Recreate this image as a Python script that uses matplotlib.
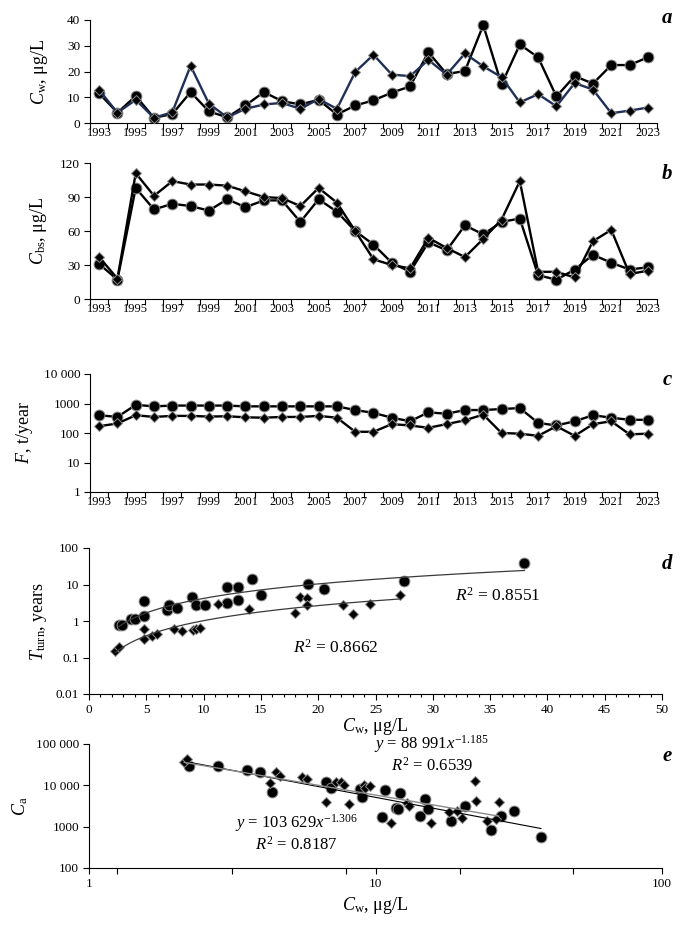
import numpy as np
import matplotlib
matplotlib.use("Agg")
import matplotlib.pyplot as plt
from matplotlib.ticker import FixedLocator, FuncFormatter, NullLocator

plt.rcParams['font.family'] = ['Liberation Serif', 'DejaVu Serif']
plt.rcParams['mathtext.fontset'] = 'custom'
plt.rcParams['mathtext.rm'] = 'Liberation Serif'
plt.rcParams['mathtext.it'] = 'Liberation Serif:italic'
plt.rcParams['font.size'] = 9.5

# ---------------- data ----------------
years = list(range(1993, 2024))

cw_circ = [11.5, 4, 10.5, 2, 3.5, 12, 4.5, 2.2, 6.8, 12, 8.5, 7.2, 9, 3.3, 6.8, 8.8,
           11.8, 14.2, 27.5, 19, 20.2, 38, 15, 30.5, 25.5, 10.3, 18.2, 15.3, 22.5, 22.5, 25.5]
cw_diam = [12.8, 4, 9, 2, 4.2, 22.2, 7.5, 2.2, 5.5, 7.2, 7.8, 5.5, 9.3, 5.5, 19.8, 26.5,
           18.8, 18.2, 24.5, 18.8, 27, 22, 17.8, 8, 11.2, 6.5, 15.5, 13, 3.8, 4.8, 6]

cbs_circ = [31, 17, 98, 79, 84, 82, 78, 88, 81, 87, 87, 68, 88, 77, 60, 48,
            32, 24, 50, 43, 65, 57, 68, 71, 21, 17, 26, 39, 32, 26, 28]
cbs_diam = [37, 18, 111, 91, 104, 101, 101, 100, 95, 90, 89, 82, 98, 85, 60, 35,
            30, 27, 54, 45, 37, 53, 70, 104, 24, 24, 19, 51, 61, 22, 25]

f_circ = [400, 350, 900, 800, 850, 850, 850, 850, 800, 800, 800, 800, 800, 800, 600, 480,
          330, 250, 500, 450, 600, 600, 650, 700, 220, 180, 250, 400, 330, 280, 280]
f_diam = [170, 210, 400, 350, 380, 380, 360, 370, 340, 330, 350, 350, 380, 330, 110, 110,
          200, 180, 150, 200, 270, 420, 100, 95, 80, 170, 80, 200, 250, 90, 95]

# panel d: turnover time vs Cw
d_circ_x = [2.6, 2.9, 3.7, 4.0, 4.8, 4.8, 6.8, 7.0, 7.7, 9.0, 9.3, 10.1, 12.0, 12.0, 13.0,
            13.0, 14.2, 15.0, 19.1, 20.5, 27.5, 38.0]
d_circ_y = [0.8, 0.8, 1.1, 1.1, 3.5, 1.35, 2.0, 2.7, 2.3, 4.5, 2.7, 2.8, 8.8, 3.2, 8.5,
            3.8, 14.0, 5.3, 10.5, 7.5, 12.5, 40.0]
d_diam_x = [2.3, 2.6, 4.8, 4.8, 5.5, 5.9, 7.4, 8.1, 9.1, 9.3, 9.7, 11.3, 14.0, 18.0, 18.4,
            19.0, 19.0, 22.2, 23.0, 24.5, 27.1]
d_diam_y = [0.15, 0.19, 0.6, 0.32, 0.4, 0.45, 0.6, 0.52, 0.55, 0.6, 0.65, 3.0, 2.1, 1.7, 4.5,
            4.2, 2.8, 2.8, 1.6, 3.0, 5.0]

# panel e: Ca vs Cw (log-log)
e_circ_x = [2.23, 2.82, 3.57, 3.94, 4.36, 6.73, 7.01, 8.85, 9.0, 10.5, 10.8, 11.8, 12.0,
            12.2, 14.3, 14.9, 15.2, 18.4, 20.5, 25.4, 27.5, 30.5, 37.8]
e_circ_y = [29000, 29000, 23000, 21000, 6900, 12300, 8600, 8200, 5300, 1700, 7600, 2900, 2700,
            6500, 1780, 4800, 2650, 1400, 3200, 850, 1860, 2330, 560]
e_diam_x = [2.15, 2.2, 4.3, 4.48, 4.64, 5.53, 5.77, 6.73, 7.28, 7.6, 7.76, 8.1, 9.1, 9.2,
            9.6, 11.3, 12.9, 13.1, 15.6, 18.1, 19.3, 20.0, 22.2, 22.4, 24.5, 26.4, 26.9]
e_diam_y = [36000, 44000, 11600, 21000, 17000, 16000, 14000, 4000, 11800, 12000, 10000, 3600,
            10000, 8500, 9500, 1260, 3700, 3200, 1260, 2250, 2400, 1600, 13000, 4200, 1380,
            1500, 4000]
fit_e_circ = (103629, -1.306)
fit_e_diam = (88991, -1.185)

# ---------------- style helpers ----------------
navy = '#1f2f55'
circ_kw = dict(marker='o', ms=7.8, mfc='black', mec='#8c8c8c', mew=0.7)
diam_kw = dict(marker='D', ms=5.5, mfc='black', mec='#8c8c8c', mew=0.7)

def space_fmt(v, pos):
    if v >= 10000:
        return f"{int(round(v)):,}".replace(",", " ")
    if v >= 1:
        return f"{int(round(v))}"
    return f"{v:g}"

def clean(ax):
    ax.spines['top'].set_visible(False)
    ax.spines['right'].set_visible(False)
    ax.tick_params(axis='both', which='both', direction='out', length=4, width=0.8, pad=3)

def year_axis(ax):
    n = len(years)
    ax.set_xlim(-0.5, n - 0.5)
    ax.xaxis.set_major_locator(FixedLocator(np.arange(-0.5, n, 1.0)))
    ax.xaxis.set_major_formatter(FuncFormatter(lambda v, p: ""))
    pos = np.arange(0, n, 2)
    ax.xaxis.set_minor_locator(FixedLocator(pos))
    ax.xaxis.set_minor_formatter(FuncFormatter(lambda v, p: str(years[int(round(v))])))

fig = plt.figure(figsize=(6.84, 9.27), dpi=100)
H = 927.0
W = 684.0
def box(x0, x1, y0, y1):
    return [x0 / W, 1 - y1 / H, (x1 - x0) / W, (y1 - y0) / H]

x = np.arange(len(years))
ylab_fs = 13
lw = 1.7

# ---------------- a ----------------
ax = fig.add_axes(box(90, 657, 20, 123))
ax.plot(x, cw_diam, color=navy, lw=lw, **diam_kw, zorder=3)
ax.plot(x, cw_circ, color='black', lw=lw, **circ_kw, zorder=2)
ax.set_ylim(0, 40)
ax.set_yticks([0, 10, 20, 30, 40])
year_axis(ax)
clean(ax)
ax.tick_params(axis='x', which='minor', length=0, labelsize=9)
ax.set_ylabel(r"$C_\mathrm{w}$, μg/L", fontsize=ylab_fs, labelpad=12)

# ---------------- b ----------------
ax = fig.add_axes(box(90, 657, 163, 299))
ax.plot(x, cbs_diam, color='black', lw=lw, **diam_kw, zorder=3)
ax.plot(x, cbs_circ, color='black', lw=lw, **circ_kw, zorder=2)
ax.set_ylim(0, 120)
ax.set_yticks([0, 30, 60, 90, 120])
year_axis(ax)
clean(ax)
ax.tick_params(axis='x', which='minor', length=0, labelsize=9)
ax.set_ylabel(r"$C_\mathrm{bs}$, μg/L", fontsize=ylab_fs, labelpad=8)

# ---------------- c ----------------
ax = fig.add_axes(box(90, 657, 374, 492))
ax.plot(x, f_circ, color='black', lw=lw, **circ_kw, zorder=2)
ax.plot(x, f_diam, color='black', lw=lw, **diam_kw, zorder=3)
ax.set_yscale('log')
ax.set_ylim(1, 10000)
ax.yaxis.set_major_locator(FixedLocator([1, 10, 100, 1000, 10000]))
ax.yaxis.set_minor_locator(NullLocator())
ax.yaxis.set_major_formatter(FuncFormatter(space_fmt))
year_axis(ax)
clean(ax)
ax.tick_params(axis='x', which='minor', length=0, labelsize=9)
ax.set_ylabel(r"$F$, t/year", fontsize=ylab_fs, labelpad=6)

# ---------------- d ----------------
ax = fig.add_axes(box(89, 662, 548, 694))
for xs, ys, kw in [(d_circ_x, d_circ_y, circ_kw), (d_diam_x, d_diam_y, diam_kw)]:
    xs = np.array(xs); ys = np.array(ys)
    b, a = np.polyfit(np.log(xs), np.log(ys), 1)
    xx = np.linspace(xs.min(), xs.max(), 200)
    ax.plot(xx, np.exp(a) * xx ** b, color='#3a3a3a', lw=0.9, zorder=4)
    ax.plot(xs, ys, ls='none', zorder=3, **kw)
ax.set_yscale('log')
ax.set_ylim(0.01, 100)
ax.set_xlim(0, 50)
ax.yaxis.set_major_locator(FixedLocator([0.01, 0.1, 1, 10, 100]))
ax.yaxis.set_minor_locator(NullLocator())
ax.yaxis.set_major_formatter(FuncFormatter(space_fmt))
ax.set_xticks(np.arange(0, 51, 5))
ax.xaxis.set_minor_locator(FixedLocator(np.arange(0, 51, 1)))
clean(ax)
ax.tick_params(axis='x', which='minor', length=2.5)
ax.set_ylabel(r"$T_\mathrm{turn}$, years", fontsize=ylab_fs, labelpad=5)
ax.set_xlabel(r"$C_\mathrm{w}$, μg/L", fontsize=ylab_fs, labelpad=0)
ax.text(35.7, 5.0, r"$R^2$ = 0.8551", fontsize=12.5, ha='center', va='center')
ax.text(21.5, 0.18, r"$R^2$ = 0.8662", fontsize=12.5, ha='center', va='center')

# ---------------- e ----------------
ax = fig.add_axes(box(89, 662, 744, 868))
ax.set_xscale('log')
ax.set_yscale('log')
xx = np.linspace(min(e_circ_x), max(e_circ_x), 100)
ax.plot(xx, fit_e_circ[0] * xx ** fit_e_circ[1], color='black', lw=0.8, zorder=4)
xx = np.linspace(min(e_diam_x), max(e_diam_x), 100)
ax.plot(xx, fit_e_diam[0] * xx ** fit_e_diam[1], color='#8a8a8a', lw=1.0, zorder=4)
ax.plot(e_circ_x, e_circ_y, ls='none', zorder=3, **circ_kw)
ax.plot(e_diam_x, e_diam_y, ls='none', zorder=3, **diam_kw)
ax.set_xlim(1, 100)
ax.set_ylim(100, 100000)
ax.yaxis.set_major_locator(FixedLocator([100, 1000, 10000, 100000]))
ax.yaxis.set_minor_locator(NullLocator())
ax.yaxis.set_major_formatter(FuncFormatter(space_fmt))
ax.xaxis.set_major_locator(FixedLocator([1, 10, 100]))
ax.xaxis.set_major_formatter(FuncFormatter(space_fmt))
ax.xaxis.set_minor_locator(FixedLocator([1.25, 3.15, 7.9, 19.7, 49]))
ax.xaxis.set_minor_formatter(FuncFormatter(lambda v, p: ""))
clean(ax)
ax.tick_params(axis='x', which='minor', length=4)
ax.set_ylabel(r"$C_\mathrm{a}$", fontsize=ylab_fs, labelpad=4)
ax.set_xlabel(r"$C_\mathrm{w}$, μg/L", fontsize=ylab_fs, labelpad=4)
ax.text(15.7, 97000, r"$y$ = 88 991$x^{-1.185}$", fontsize=12, ha='center', va='center')
ax.text(15.7, 29000, r"$R^2$ = 0.6539", fontsize=12, ha='center', va='center')
ax.text(5.3, 1200, r"$y$ = 103 629$x^{-1.306}$", fontsize=12, ha='center', va='center')
ax.text(5.3, 360, r"$R^2$ = 0.8187", fontsize=12, ha='center', va='center')

# panel letters
for lab, yy in [('a', 18), ('b', 174), ('c', 380), ('d', 564), ('e', 756)]:
    fig.text(667 / W, 1 - yy / H, lab, fontsize=15, fontweight='bold', fontstyle='italic',
             ha='center', va='center')

fig.savefig("out.png", dpi=100)
